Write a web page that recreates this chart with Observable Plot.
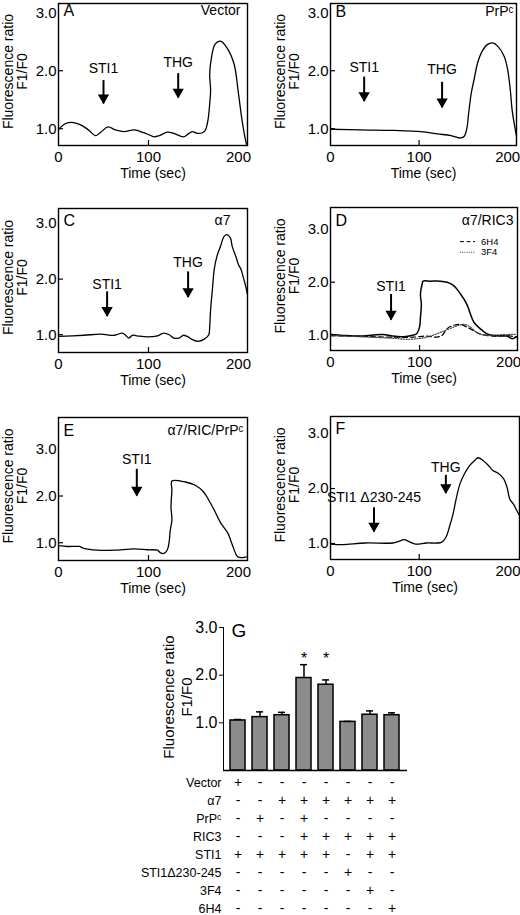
<!DOCTYPE html>
<html><head><meta charset="utf-8">
<script src="https://cdn.jsdelivr.net/npm/d3@7"></script>
<script src="https://cdn.jsdelivr.net/npm/@observablehq/plot@0.6"></script>
<style>
body{margin:0;background:#fff;}
#fig{position:relative;width:520px;height:915px;overflow:hidden;}
#fig > div{position:absolute;}
#fig svg{overflow:visible;}
</style></head><body><div id="fig"></div>
<script>
// ---------- DATA ----------
// Panel A: Vector
const vectorT = [0, 8, 15, 24, 34, 41, 47, 55, 63, 73, 84, 91, 100, 106, 112, 121, 128, 139, 145, 149, 154, 160, 163, 166, 168, 169, 168, 170, 174, 180, 187, 195, 200, 204, 208, 210];
const vectorR = [0.99, 1.09, 1.11, 1.07, 0.97, 0.88, 0.94, 1.03, 0.98, 0.95, 0.98, 0.95, 0.90, 0.86, 0.88, 0.94, 0.92, 0.86, 0.92, 0.95, 0.92, 0.93, 0.97, 1.14, 1.43, 1.66, 1.94, 2.23, 2.46, 2.51, 2.40, 2.12, 1.60, 1.14, 0.79, 0.68];
// Panel B: PrPc
const prpT = [0, 34, 72, 102, 121, 136, 147, 151, 154, 156, 159, 162, 166, 171, 177, 183, 189, 196, 200, 203, 205, 208, 210];
const prpR = [0.99, 0.98, 0.97, 0.95, 0.91, 0.88, 0.84, 0.87, 1.01, 1.27, 1.62, 1.84, 2.13, 2.33, 2.45, 2.48, 2.42, 2.25, 2.02, 1.67, 1.33, 1.04, 0.88];
// Panel C: alpha7
const a7T = [0, 28, 47, 62, 71, 74, 78, 82, 87, 99, 110, 117, 123, 128, 134, 139, 143, 149, 155, 162, 167, 168, 169, 171, 173, 176, 180, 184, 187, 191, 193, 197, 200, 203, 205, 208, 210];
const a7R = [0.97, 0.99, 1.01, 0.99, 1.03, 1.00, 0.94, 0.99, 0.98, 0.96, 0.98, 1.03, 1.00, 0.94, 0.94, 0.99, 0.97, 0.91, 0.88, 0.92, 1.00, 1.15, 1.45, 1.81, 2.17, 2.41, 2.59, 2.77, 2.80, 2.74, 2.59, 2.41, 2.26, 2.17, 2.05, 1.87, 1.72];
// Panel D: alpha7/RIC3 (STI1), with 6H4 and 3F4
const ricT = [0, 18, 33, 48, 59, 70, 82, 91, 97, 100, 101, 102, 101, 103, 104, 112, 123, 131, 138, 146, 153, 157, 161, 168, 176, 183, 191, 198, 204, 209];
const ricR = [1.02, 1.00, 0.99, 1.01, 1.02, 0.99, 0.98, 1.00, 1.04, 1.16, 1.34, 1.59, 1.78, 1.97, 2.02, 2.02, 2.02, 2.00, 1.94, 1.78, 1.59, 1.41, 1.25, 1.13, 1.03, 1.00, 0.99, 0.99, 0.94, 0.98];
const h64T = [0, 70, 93, 108, 119, 125, 131, 138, 146, 153, 161, 168, 176, 183, 198, 209];
const h64R = [1.00, 0.97, 0.97, 0.99, 0.97, 1.00, 1.13, 1.19, 1.21, 1.16, 1.09, 1.03, 1.00, 0.99, 1.00, 0.97];
const f34T = [0, 70, 85, 97, 108, 119, 131, 142, 150, 157, 164, 172, 183, 198, 209];
const f34R = [1.00, 0.95, 0.93, 0.94, 0.97, 1.03, 1.11, 1.18, 1.21, 1.16, 1.06, 1.01, 1.01, 1.02, 1.02];
// Panel E: alpha7/RIC/PrPc
const ricPrpT = [0, 10, 23, 28, 43, 62, 84, 99, 110, 113, 117, 121, 123, 124, 126, 125, 126, 126, 141, 152, 161, 167, 173, 180, 188, 194, 199, 204, 210];
const ricPrpR = [0.94, 0.92, 0.92, 0.88, 0.84, 0.84, 0.87, 0.85, 0.84, 0.79, 0.77, 0.85, 1.03, 1.24, 1.49, 1.77, 2.13, 2.32, 2.30, 2.23, 2.09, 1.91, 1.70, 1.43, 1.21, 0.91, 0.70, 0.68, 0.70];
// Panel F: STI1 delta230-245
const deltaT = [0, 13, 39, 70, 77, 83, 89, 96, 108, 119, 125, 130, 134, 138, 142, 146, 151, 157, 163, 166, 172, 178, 183, 189, 195, 199, 202, 206, 210, 213];
const deltaR = [0.99, 0.98, 1.01, 1.01, 1.04, 1.07, 1.03, 0.99, 1.01, 1.01, 1.02, 1.11, 1.30, 1.53, 1.84, 2.09, 2.27, 2.42, 2.52, 2.56, 2.51, 2.42, 2.33, 2.28, 2.18, 2.02, 1.81, 1.72, 1.60, 1.51];

// Arrow annotations (time, label level, arrow start, arrow tip)
const arrowsA = [{label: "STI1", t: 50, at: 2.03, from: 1.83, to: 1.43}, {label: "THG", t: 133, at: 2.14, from: 1.95, to: 1.53}];
const arrowsB = [{label: "STI1", t: 38, at: 2.05, from: 1.89, to: 1.47}, {label: "THG", t: 126, at: 2.02, from: 1.80, to: 1.36}];
const arrowsC = [{label: "STI1", t: 54, at: 1.91, from: 1.77, to: 1.33}, {label: "THG", t: 144, at: 2.29, from: 2.13, to: 1.67}];
const arrowsD = [{label: "STI1", t: 68, at: 1.92, from: 1.77, to: 1.29}];
const arrowsE = [{label: "STI1", t: 87, at: 2.78, from: 2.57, to: 2.00}];
const arrowsF = [{label: "STI1 \u0394230-245", t: 49, at: 1.83, from: 1.65, to: 1.21}, {label: "THG", t: 130, at: 2.39, from: 2.24, to: 1.91}];
const legendD = [{name: "6H4", x1: 146, x2: 163, y: 2.76, tx: 169}, {name: "3F4", x1: 146, x2: 163, y: 2.56, tx: 169}];

// Panel G: bar chart
const barMeans = [1.05, 1.12, 1.16, 1.94, 1.80, 1.02, 1.17, 1.16];
const barSEM = [0.02, 0.11, 0.06, 0.28, 0.10, 0.01, 0.08, 0.05];
const barSignificant = [0, 0, 0, 1, 1, 0, 0, 0];
const starLevel = 2.45;
const yTicksG = [1, 2, 3];
// Condition table below G
const tableRows = ["Vector", "\u03b17", "PrP\u1d9c", "RIC3", "STI1", "STI1\u0394230-245", "3F4", "6H4"];
const tableSigns = ["+-------", "--++++++", "-+-+----", "---+++++", "+++++-++", "-----+--", "------+-", "-------+"];

// ---------- DRAWING ----------
const FONT = '"Liberation Sans", Arial, Helvetica, sans-serif';
const fig = document.getElementById("fig");
function place(svg, left, top) {
  const d = document.createElement("div");
  d.style.left = left + "px"; d.style.top = top + "px";
  d.appendChild(svg); fig.appendChild(d);
}
const toRows = (t, r) => t.map((x, i) => ({t: x, r: r[i]}));

function linePanel(p) {
  const W = p.width - p.ml - p.mr, H = p.height - p.mt - p.mb;
  const marks = [
    Plot.tickY([1, 2], {y: d => d, insetRight: W - 5, strokeWidth: 1.2}),
    Plot.tickX([100], {x: d => d, insetTop: H - 5, strokeWidth: 1.2}),
    Plot.axisY({ticks: [1, 2, 3], tickFormat: d3.format(".1f"), tickSize: 0, tickPadding: 2, label: null, fontSize: 15}),
    Plot.axisX({ticks: [0, 100, 200], tickFormat: d3.format("d"), tickSize: 0, tickPadding: 6, label: null, fontSize: 15}),
    ...p.series.map(s => Plot.line(toRows(s.t, s.r), {x: "t", y: "r", curve: s.curve || "catmull-rom", stroke: s.color || "#000", strokeWidth: s.width || 1.3, strokeDasharray: s.dash, clip: true})),
    Plot.ruleX(p.arrows, {x: "t", y1: "from", y2: "to", strokeWidth: 2}),
    Plot.dot(p.arrows, {x: "t", y: "to", symbol: "triangle", r: 4.2, fill: "#000", stroke: "none", rotate: 180, dy: -6}),
    Plot.text(p.arrows, {x: "t", y: "at", text: "label", fontSize: 14}),
    Plot.text([p.letter], {frameAnchor: "top-left", dx: 5, dy: p.tagDy, fontSize: 16}),
    Plot.text(["Fluorescence ratio\nF1/F0"], {frameAnchor: "left", textAnchor: "middle", lineAnchor: "middle", rotate: -90, dx: -43, dy: -3, lineHeight: 1.0, fontSize: 14}),
    Plot.text(["Time (sec)"], {frameAnchor: "bottom", lineAnchor: "middle", dy: 28, fontSize: 14}),
    Plot.frame({strokeWidth: 1.4})
  ];
  if (p.name) marks.push(Plot.text([p.name], {frameAnchor: "top-right", dx: p.nameDx, dy: p.tagDy + 1, fontSize: 14}));
  if (p.extra) marks.push(...p.extra);
  const svg = Plot.plot({
    width: p.width, height: p.height,
    marginLeft: p.ml, marginRight: p.mr, marginTop: p.mt, marginBottom: p.mb,
    x: {domain: p.xdom}, y: {domain: p.ydom},
    style: {fontFamily: FONT, fontSize: "15px", background: "none", color: "#000", overflow: "visible"},
    marks
  });
  place(svg, p.left, p.top);
}

linePanel({letter: "A", name: "Vector", nameDx: -7, tagDy: 1, left: 0, top: 0, width: 260, height: 185, ml: 58, mr: 13, mt: 3, mb: 40,
  xdom: [0, 210], ydom: [0.71, 3.16], series: [{t: vectorT, r: vectorR}], arrows: arrowsA});
linePanel({letter: "B", name: "PrP\u1d9c", nameDx: -3, tagDy: 2, left: 260, top: 0, width: 260, height: 185, ml: 70, mr: 4, mt: 3, mb: 40,
  xdom: [0, 210], ydom: [0.71, 3.16], series: [{t: prpT, r: prpR}], arrows: arrowsB});
linePanel({letter: "C", name: "\u03b17", nameDx: -17, tagDy: 6, left: 0, top: 195, width: 260, height: 195, ml: 58, mr: 13, mt: 13, mb: 38,
  xdom: [0, 210], ydom: [0.68, 3.27], series: [{t: a7T, r: a7R}], arrows: arrowsC});
linePanel({letter: "D", name: "\u03b17/RIC3", nameDx: -4, tagDy: 7, left: 260, top: 195, width: 260, height: 195, ml: 70, mr: 3, mt: 12, mb: 40,
  xdom: [0, 210], ydom: [0.72, 3.40],
  series: [{t: ricT, r: ricR, width: 1.5}, {t: h64T, r: h64R, dash: "5,3", width: 1.2}, {t: f34T, r: f34R, dash: "1.2,1.5", width: 1.2, color: "#444"}],
  arrows: arrowsD,
  extra: [
    Plot.ruleY(legendD.slice(0, 1), {y: "y", x1: "x1", x2: "x2", strokeDasharray: "4,2.5", strokeWidth: 1}),
    Plot.ruleY(legendD.slice(1), {y: "y", x1: "x1", x2: "x2", strokeDasharray: "1,1.2", strokeWidth: 1, stroke: "#444"}),
    Plot.text(legendD, {x: "tx", y: "y", text: "name", fontSize: 9.5, textAnchor: "start"})
  ]});
linePanel({letter: "E", name: "\u03b17/RIC/PrP\u1d9c", nameDx: -4, tagDy: 7, left: 0, top: 400, width: 260, height: 195, ml: 58, mr: 13, mt: 17, mb: 35,
  xdom: [0, 210], ydom: [0.62, 3.68], series: [{t: ricPrpT, r: ricPrpR}], arrows: arrowsE});
linePanel({letter: "F", name: null, tagDy: 6, left: 260, top: 400, width: 260, height: 195, ml: 70, mr: 1, mt: 16, mb: 36,
  xdom: [0, 213], ydom: [0.71, 3.31], series: [{t: deltaT, r: deltaR}], arrows: arrowsF});

// Panel G
const cols = barMeans.map((_, i) => "c" + (i + 1));
const bars = barMeans.map((m, i) => ({col: cols[i], mean: m, err: barSEM[i], sig: barSignificant[i]}));
const xBand = {type: "band", domain: cols, paddingInner: 0.3, paddingOuter: 0.2, axis: null};
const gSvg = Plot.plot({
  width: 260, height: 172, marginLeft: 63, marginRight: 13, marginTop: 27, marginBottom: 2,
  x: xBand,
  y: {domain: [0, 3], ticks: yTicksG, tickFormat: ".1f", tickSize: 4, tickPadding: 2, line: true, label: null},
  style: {fontFamily: FONT, fontSize: "16px", background: "none", color: "#000", overflow: "visible"},
  marks: [
    Plot.barY(bars, {x: "col", y: "mean", fill: "#8c8c8c", stroke: "#000", strokeWidth: 1.5}),
    Plot.ruleX(bars, {x: "col", y1: "mean", y2: d => d.mean + d.err, strokeWidth: 1.5}),
    Plot.tickY(bars, {x: "col", y: d => d.mean + d.err, insetLeft: 4, insetRight: 4, strokeWidth: 1.5}),
    Plot.text(bars.filter(d => d.sig), {x: "col", y: () => starLevel, text: () => "*", fontSize: 16, dy: 5}),
    Plot.ruleY([0], {strokeWidth: 1.3}),
    Plot.text(["G"], {frameAnchor: "top-left", dx: 8, dy: -4, fontSize: 19}),
    Plot.text(["Fluorescence ratio\nF1/F0"], {frameAnchor: "left", textAnchor: "middle", lineAnchor: "middle", rotate: -90, dx: -46, dy: -2, lineHeight: 1.2, fontSize: 15})
  ]
});
place(gSvg, 160, 600);

// Condition table
const cells = tableRows.flatMap((row, r) => cols.map((c, i) => ({row, col: c, sign: tableSigns[r][i]})));
const tSvg = Plot.plot({
  width: 420, height: 145, marginLeft: 223, marginRight: 13, marginTop: 0, marginBottom: 0,
  x: xBand,
  y: {type: "point", domain: tableRows, range: [11, 139], padding: 0},
  style: {fontFamily: FONT, fontSize: "12px", background: "none", color: "#000", overflow: "visible"},
  marks: [
    Plot.axisY({tickSize: 0, tickPadding: 2, label: null, fontSize: 12.5}),
    Plot.text(cells, {x: "col", y: "row", text: "sign", fontSize: 14})
  ]
});
place(tSvg, 0, 770);
</script></body></html>
